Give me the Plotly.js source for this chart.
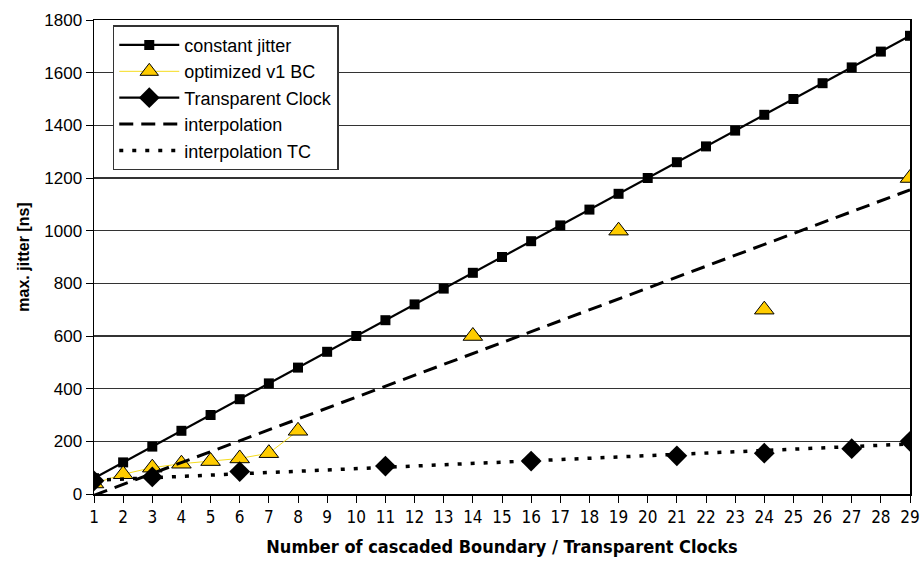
<!DOCTYPE html>
<html>
<head>
<meta charset="utf-8">
<script src="https://cdn.plot.ly/plotly-3.0.1.min.js"></script>
<style>html,body{margin:0;padding:0;background:#fff;}#chart{width:920px;height:561px;}</style>
</head>
<body>
<div id="chart"></div>
<script>
// Number of cascaded clocks
const clocks = [1,2,3,4,5,6,7,8,9,10,11,12,13,14,15,16,17,18,19,20,21,22,23,24,25,26,27,28,29];
// constant jitter [ns]
const constantJitter = [60,120,180,240,300,360,420,480,540,600,660,720,780,840,900,960,1020,1080,1140,1200,1260,1320,1380,1440,1500,1560,1620,1680,1740];
// optimized v1 BC [ns] (gaps where not measured)
const optimizedV1BC = [40,75,100,115,125,135,155,240,null,null,null,null,null,600,null,null,null,null,1000,null,null,null,null,700,null,null,null,null,1200];
// Transparent Clock [ns]
const transparentClock = [50,null,65,null,null,85,null,null,null,null,106,null,null,null,null,125,null,null,null,null,145,null,null,155,null,null,172,null,200];
// linear interpolation (trend lines), endpoints
const interpX = [1, 29];
const interpBC = [-5, 1155];
const interpTC = [52, 190];

const yTicks = [0,200,400,600,800,1000,1200,1400,1600,1800];

const traces = [
  {x: clocks, y: constantJitter, name: 'constant jitter', mode: 'lines+markers',
   line: {color: '#000', width: 2.2}, marker: {symbol: 'square', size: 10, color: '#000'}},
  {x: clocks, y: optimizedV1BC, name: 'optimized v1 BC', mode: 'lines+markers', connectgaps: false,
   line: {color: '#F5DC1E', width: 1}, marker: {symbol: 'triangle-up', size: 17, color: '#FFCC00', line: {color: '#000', width: 1}}},
  {x: clocks, y: transparentClock, name: 'Transparent Clock', mode: 'lines+markers', connectgaps: false,
   line: {color: '#000', width: 2.2}, marker: {symbol: 'diamond', size: 16, color: '#000'}},
  {x: interpX, y: interpBC, name: 'interpolation', mode: 'lines',
   line: {color: '#000', width: 3, dash: '14px,8px'}},
  {x: interpX, y: interpTC, name: 'interpolation TC', mode: 'lines',
   line: {color: '#000', width: 3.5, dash: '4px,9px'}}
];

const layout = {
  width: 920, height: 561,
  margin: {l: 94, r: 10, t: 20, b: 67},
  paper_bgcolor: '#fff', plot_bgcolor: '#fff',
  font: {family: 'Liberation Sans, Arial, sans-serif', color: '#000'},
  showlegend: true,
  legend: {x: 0.023, y: 0.989, xanchor: 'left', yanchor: 'top',
    bgcolor: '#fff', bordercolor: '#333', borderwidth: 1.5, itemwidth: 60,
    font: {size: 18, family: 'Liberation Sans, Arial, sans-serif', color: '#000'}},
  xaxis: {
    range: [1, 29], tickmode: 'array', tickvals: clocks, ticktext: clocks.map(String),
    ticks: 'outside', ticklen: 7, tickcolor: '#000', tickwidth: 1,
    showgrid: false, zeroline: false, ticklabeloverflow: 'allow',
    showline: true, linecolor: '#000', linewidth: 1.5, mirror: true,
    tickfont: {size: 17, family: 'Liberation Sans Narrow, Arial Narrow, DejaVu Sans Condensed, Liberation Sans, sans-serif'},
    title: {text: '<b>Number of cascaded Boundary / Transparent Clocks</b>',
      font: {size: 18, family: 'Liberation Sans Narrow, Arial Narrow, DejaVu Sans Condensed, Liberation Sans, sans-serif'}, standoff: 14}
  },
  yaxis: {
    range: [0, 1800], tickmode: 'array', tickvals: yTicks,
    ticks: 'outside', ticklen: 7, tickcolor: '#000', tickwidth: 1,
    showgrid: true, gridcolor: '#333', gridwidth: 1.5, zeroline: false,
    showline: true, linecolor: '#000', linewidth: 1.5, mirror: true,
    tickfont: {size: 17},
    title: {text: '<b>max. jitter [ns]</b>', font: {size: 16}, standoff: 10}
  }
};

Plotly.newPlot('chart', traces, layout, {displayModeBar: false, staticPlot: true});
</script>
</body>
</html>
